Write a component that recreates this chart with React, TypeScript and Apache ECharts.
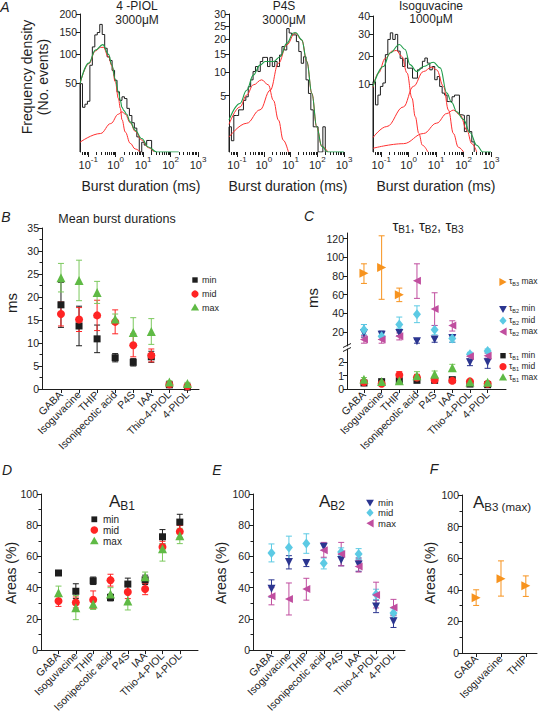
import React, { useEffect, useRef } from "react";
import * as echarts from "echarts";

const FONT = "'Liberation Sans', Arial, Helvetica, sans-serif";
const INK = "#1e1e1e";
const RED = "#ff2424";
const RED_FIT = "#ff3030";
const GREEN_FIT = "#1e9d4a";
const GREEN = "#5fba45";
const ORANGE = "#f7931e";
const NAVY = "#2b3590";
const CYAN = "#5ccae4";
const MAGENTA = "#c04e9f";

// ---------------- Panel A: burst-duration histograms (sqrt y, log x) ----------------
const histBinStart = -1.3;
const histBinWidth = 0.09;
const logTickExps = [-1, 0, 1, 2, 3];
const piolYTicks = [50, 100, 150, 200];
const p4sYTicks = [5, 10, 15, 20, 25, 30];
const isoYTicks = [10, 20, 30, 40];

const piolCounts = [49, 21, 24, 27, 79, 116, 144, 150, 171, 145, 113, 95, 88, 70, 54, 38, 28, 32, 30, 20, 14, 9, 6, 2.4, 0, 1, 0.5, 1.4, 1.4];
const p4sCounts = [1.0, 0.2, 2.1, 2.1, 2.8, 2.8, 4.2, 4.8, 6.7, 8.2, 10.2, 11.5, 10.2, 12.9, 14.1, 14.1, 11.5, 14.1, 11.5, 12.9, 11.5, 14.8, 17.5, 16.4, 24, 22.3, 21.6, 21.6, 19.2, 15.9, 12.4, 14.3, 8.2, 5.4, 2.8, 1.0, 1.0, 0, 0, 1.0];
const isoCounts = [10.7, 4.8, 7, 9.3, 10.3, 20.5, 27.4, 30.7, 27.4, 29.9, 22, 19, 15.8, 19, 15.2, 15.2, 11.8, 11.8, 14.6, 15.2, 17.8, 19.1, 17.1, 14.6, 15.8, 11.3, 12.3, 9.3, 7.5, 7, 5.5, 5.5, 6.6, 7, 7, 3, 2.9, 0.9, 2.9, 0.9, 0.22];

const piolFitFast = [[-1.3, 49], [-0.98, 82], [-0.74, 107], [-0.55, 115], [-0.45, 115], [-0.26, 95], [-0.14, 78], [-0.015, 52], [0.1, 30], [0.17, 20], [0.23, 11], [0.35, 4.2], [0.53, 0.8], [0.71, 0.1], [0.9, 0]];
const piolFitSlow = [[-1.3, 1], [-0.55, 3.6], [-0.18, 8.5], [0.1, 15], [0.23, 17], [0.35, 15], [0.53, 9], [0.71, 4.5], [0.95, 1.5], [1.19, 0.2], [1.4, 0]];
const piolFitSum = [[-1.3, 49], [-0.98, 83], [-0.74, 109], [-0.47, 121], [-0.26, 100], [-0.14, 80], [-0.015, 56], [0.1, 38], [0.17, 28], [0.23, 21], [0.3, 18], [0.4, 15], [0.53, 9.5], [0.71, 5], [0.95, 1.9], [1.19, 0.26], [1.5, 0], [2.3, 0]];

const p4sFitFast = [[-1.3, 1.2], [-0.89, 3.2], [-0.64, 5.1], [-0.39, 7.1], [-0.08, 8.2], [0.17, 7.1], [0.36, 4.2], [0.55, 1.6], [0.73, 0.22], [0.92, 0]];
const p4sFitSlow = [[-1.3, 0.35], [-0.64, 1.3], [-0.14, 2.8], [0.24, 6], [0.55, 12.4], [0.86, 18.1], [1.17, 22.3], [1.42, 19.8], [1.61, 12.9], [1.8, 5.4], [1.98, 1.0], [2.17, 0.05], [2.4, 0]];
const p4sFitSum = [[-1.3, 1.6], [-0.89, 3.7], [-0.64, 6], [-0.39, 9.3], [-0.14, 11.9], [0.05, 12.9], [0.36, 12.9], [0.61, 14.3], [0.86, 18.6], [1.11, 22.3], [1.2, 22.4], [1.42, 19.8], [1.61, 12.9], [1.8, 5.4], [1.98, 1.0], [2.17, 0.05], [2.4, 0], [3, 0]];

const isoFit1 = [[-1.3, 9], [-1.1, 13.5], [-0.85, 19], [-0.6, 22], [-0.45, 22.3], [-0.25, 19.8], [-0.06, 13.5], [0.12, 6.3], [0.24, 2.7], [0.37, 0.75], [0.5, 0.1], [0.7, 0]];
const isoFit2 = [[-1.3, 0.45], [-0.8, 1.4], [-0.19, 4.4], [0.17, 9.3], [0.54, 14], [0.84, 15.6], [1.02, 14.6], [1.27, 9.3], [1.45, 3.8], [1.63, 0.74], [1.81, 0.05], [2.0, 0]];
const isoFit3 = [[-1.3, 0.03], [-0.19, 0.15], [0.54, 0.74], [1.02, 1.8], [1.39, 3.2], [1.63, 3.8], [1.88, 2.95], [2.12, 1.03], [2.3, 0.15], [2.48, 0]];
const isoFitSum = [[-1.3, 9.3], [-0.92, 15.8], [-0.68, 21.2], [-0.34, 25], [-0.13, 22.7], [0.05, 16.5], [0.29, 14], [0.54, 15.8], [0.9, 17.4], [1.15, 15.3], [1.39, 7.5], [1.57, 5.3], [1.75, 3.5], [1.99, 2.3], [2.24, 0.8], [2.48, 0.1], [2.7, 0], [3, 0]];

// ---------------- Panels B-F ----------------
const agonists = ["GABA", "Isoguvacine", "THIP", "Isonipecotic acid", "P4S", "IAA", "Thio-4-PIOL", "4-PIOL"];
const agonistsF = ["GABA", "Isoguvacine", "THIP"];

// B: mean burst durations (ms)
const bMin = [18.3, 13.7, 10.9, 6.8, 5.8, 7.0, 0.9, 0.4];
const bMinLo = [13.4, 9.4, 7.9, 5.9, 5.0, 5.8, 0.75, 0.3];
const bMinHi = [23.2, 18.0, 13.9, 7.7, 6.6, 8.2, 1.05, 0.5];
const bMid = [16.3, 15.1, 16.0, 14.6, 9.5, 7.3, 1.0, 0.6];
const bMidLo = [13.7, 12.5, 12.7, 12.0, 7.0, 5.9, 0.8, 0.45];
const bMidHi = [18.9, 17.7, 19.3, 17.2, 12.0, 8.7, 1.2, 0.75];
const bMax = [24.2, 23.6, 21.0, 15.2, 12.3, 12.5, 1.5, 1.2];
const bMaxLo = [21.1, 19.2, 18.6, 14.1, 9.1, 9.7, 1.2, 0.95];
const bMaxHi = [27.3, 28.0, 23.4, 16.3, 15.5, 15.3, 1.8, 1.45];

// C: time constants (ms)
const tauB3Max = [83, 89, 60];
const tauB3MaxLo = [72, 55, 52.5];
const tauB3MaxHi = [93, 123, 67];
const tauB2Min = [19, 17, 19, 10, 12, 13.5, 2.0, 2.0];
const tauB2MinLo = [14.5, 12, 16, 8, 9, 9, 1.75, 1.55];
const tauB2MinHi = [28, 21, 22, 12, 14.5, 16, 2.25, 2.3];
const tauB2Mid = [22.5, 15.5, 28, 39, 22.5, 13, 2.6, 2.85];
const tauB2MidLo = [17, 12, 24, 30, 17, 9, 2.45, 2.7];
const tauB2MidHi = [28, 19, 36, 48, 27, 17, 2.75, 3.0];
const tauB2Max = [12, 12, 15.5, 75, 44.5, 27, 2.45, 2.5];
const tauB2MaxLo = [8, 8, 11.5, 56, 27, 21, 2.25, 2.3];
const tauB2MaxHi = [16, 15, 19, 93, 62, 32, 2.65, 2.7];
const tauB2UpperCount = 6;
const tauB1Min = [0.45, 0.55, 0.62, 0.65, 0.65, 0.7, 0.37, 0.32];
const tauB1MinLo = [0.4, 0.5, 0.55, 0.58, 0.6, 0.62, 0.32, 0.27];
const tauB1MinHi = [0.5, 0.6, 0.69, 0.72, 0.7, 0.78, 0.42, 0.37];
const tauB1Mid = [0.5, 0.4, 1.05, 0.86, 0.67, 0.62, 0.57, 0.4];
const tauB1MidLo = [0.42, 0.33, 0.78, 0.62, 0.55, 0.52, 0.5, 0.33];
const tauB1MidHi = [0.58, 0.47, 1.3, 1.1, 0.8, 0.72, 0.64, 0.47];
const tauB1Max = [0.74, 0.57, 0.62, 1.0, 1.1, 1.6, 0.52, 0.5];
const tauB1MaxLo = [0.62, 0.5, 0.55, 0.72, 0.85, 1.35, 0.45, 0.43];
const tauB1MaxHi = [0.86, 0.64, 0.69, 1.3, 1.35, 1.85, 0.59, 0.57];

// D: A_B1 areas (%)
const dMin = [49.4, 37.7, 44.4, 33.7, 42.3, 45, 72.6, 82];
const dMinLo = [48, 33, 42, 31.5, 38.5, 42, 68, 77];
const dMinHi = [50.8, 42.5, 46.8, 35.9, 46.1, 48, 77.2, 87];
const dMid = [31.4, 30.5, 32.2, 44.8, 37.2, 39.1, 66.1, 75.9];
const dMidLo = [28, 27, 26.5, 41, 33, 35.5, 62.5, 72];
const dMidHi = [34.8, 34, 37.9, 48.6, 41.4, 42.7, 69.7, 79.8];
const dMax = [36.8, 27.2, 29.5, 36, 31.4, 47, 65, 73.2];
const dMaxLo = [32.5, 19.5, 26, 32, 25.7, 44, 57, 68.2];
const dMaxHi = [41, 35, 33, 40, 37, 50, 68, 78];

// E: A_B2 areas (%)
const eMin = [39.3, 56.4, 55.8, 66.2, 57.7, 54.8, 28, 18.5];
const eMinLo = [34, 52, 53.5, 64, 54, 50.5, 24, 14.5];
const eMinHi = [45, 60.5, 58, 68.4, 61.4, 59, 32, 22.5];
const eMid = [62.2, 65.8, 68.3, 55.6, 62.8, 61.5, 35.7, 23.8];
const eMidLo = [56.5, 58.5, 62, 52, 60.5, 58, 32.5, 21];
const eMidHi = [68, 73, 74.5, 59, 65.5, 65, 39, 26.5];
const eMax = [34.5, 32.8, 39.1, 64, 61.5, 53.5, 35.3, 27.3];
const eMaxLo = [29, 22.5, 32, 59.5, 54, 50, 27, 22];
const eMaxHi = [40, 43, 46, 69, 69, 57.5, 43.5, 32.5];

// F: A_B3 (max) areas (%)
const fMax = [34.9, 47, 42.5];
const fMaxLo = [30.1, 36, 35.8];
const fMaxHi = [40, 58.3, 48.8];

// ---------------- symbols ----------------
const SYM_RIGHT = "path://M0,0L0,10L9,5Z";
const SYM_LEFT = "path://M9,0L9,10L0,5Z";
const SYM_DOWN = "path://M0,0L10,0L5,9Z";

function histData(counts: number[]) {
  const pts: number[][] = [[histBinStart, 0]];
  counts.forEach((c, i) => pts.push([histBinStart + i * histBinWidth, Math.sqrt(c)]));
  pts.push([histBinStart + counts.length * histBinWidth, 0]);
  return pts;
}

function histSeries(xi: number, yi: number, counts: number[]) {
  return {
    type: "line", xAxisIndex: xi, yAxisIndex: yi, step: "end", data: histData(counts),
    symbol: "none", lineStyle: { color: INK, width: 1 }, z: 2, silent: true,
  };
}

function fitSeries(xi: number, yi: number, pts: number[][], color: string, w: number, z: number) {
  return {
    type: "line", xAxisIndex: xi, yAxisIndex: yi, smooth: 0.4, smoothMonotone: "x",
    data: pts.map(([x, c]) => [x, Math.sqrt(c)]), symbol: "none",
    lineStyle: { color, width: w }, z, silent: true,
  };
}

function idx(n: number, from = 0) {
  return Array.from({ length: n }, (_, i) => i + from);
}

function pointSeries(xi: number, yi: number, xs: number[], vals: number[], symbol: string, size: any, color: string) {
  return {
    type: "scatter", xAxisIndex: xi, yAxisIndex: yi, symbol, symbolSize: size,
    itemStyle: { color, opacity: 1 }, data: xs.map((x, k) => [x, vals[k]]), z: 4, silent: true,
  };
}

function errSeries(xi: number, yi: number, xs: number[], lo: number[], hi: number[], color: string) {
  return {
    type: "custom", xAxisIndex: xi, yAxisIndex: yi, silent: true, z: 3, clip: false,
    encode: { x: 0, y: [1, 2] },
    data: xs.map((x, k) => [x, lo[k], hi[k]]),
    renderItem: (_p: any, api: any) => {
      const a = api.coord([api.value(0), api.value(1)]);
      const b = api.coord([api.value(0), api.value(2)]);
      const w = 3;
      const st = { stroke: color, lineWidth: 1 };
      return {
        type: "group",
        children: [
          { type: "line", shape: { x1: a[0], y1: a[1], x2: b[0], y2: b[1] }, style: st },
          { type: "line", shape: { x1: a[0] - w, y1: a[1], x2: a[0] + w, y2: a[1] }, style: st },
          { type: "line", shape: { x1: b[0] - w, y1: b[1], x2: b[0] + w, y2: b[1] }, style: st },
        ],
      };
    },
  };
}

function groupSeries(xi: number, yi: number, xs: number[], v: number[], lo: number[], hi: number[], sym: string, size: any, color: string, errColor?: string) {
  return [errSeries(xi, yi, xs, lo, hi, errColor || color), pointSeries(xi, yi, xs, v, sym, size, color)];
}

const supRich = {
  b: { fontSize: 11, lineHeight: 13, color: INK, fontFamily: FONT, verticalAlign: "top", padding: [4, 0, 0, 0] },
  s: { fontSize: 8, lineHeight: 9, color: INK, fontFamily: FONT, verticalAlign: "top" },
};

function logMajorAxis(gi: number) {
  return {
    type: "value", gridIndex: gi, position: "bottom", min: -1.3, max: 3,
    axisLine: { show: false, onZero: false }, splitLine: { show: false },
    axisTick: { show: true, customValues: logTickExps, length: 5, lineStyle: { color: INK } },
    axisLabel: {
      customValues: logTickExps, margin: 3, showMinLabel: true, showMaxLabel: true,
      formatter: (v: number) => `{b|10}{s|${Math.round(v)}}`, rich: supRich,
    },
  };
}

const minorLogTicks: number[] = [];
for (let n = -2; n <= 2; n++) {
  for (let k = 1; k <= 9; k++) {
    const v = n + Math.log10(k);
    if (v >= -1.3 && v <= 3) minorLogTicks.push(v);
  }
}
minorLogTicks.push(3);

function logMinorAxis(gi: number) {
  return {
    type: "value", gridIndex: gi, position: "bottom", min: -1.3, max: 3,
    axisLine: { show: false, onZero: false }, splitLine: { show: false },
    axisTick: { show: true, customValues: minorLogTicks, length: 3, lineStyle: { color: INK } },
    axisLabel: { show: false },
  };
}

function sqrtYAxis(gi: number, ticks: number[]) {
  const cv = ticks.map((t) => Math.sqrt(t));
  return {
    type: "value", gridIndex: gi, min: 0, max: Math.sqrt(ticks[ticks.length - 1]),
    axisLine: { show: true, onZero: false, lineStyle: { color: INK } }, splitLine: { show: false },
    axisTick: { show: true, customValues: cv, length: 4, lineStyle: { color: INK } },
    axisLabel: {
      customValues: cv, formatter: (v: number) => String(Math.round(v * v)),
      fontSize: 10.5, color: INK, margin: 3, showMinLabel: true, showMaxLabel: true,
    },
  };
}

function catAxis(gi: number, cats: string[], min: number, max: number, show = true) {
  const cv = cats.map((_, i) => i);
  return {
    type: "value", gridIndex: gi, position: "bottom", min, max, show,
    axisLine: { show: true, onZero: false, lineStyle: { color: INK } }, splitLine: { show: false },
    axisTick: { show: true, customValues: cv, length: 4, lineStyle: { color: INK } },
    axisLabel: {
      customValues: cv, formatter: (v: number) => cats[Math.round(v)] ?? "",
      rotate: 45, fontSize: 10.5, color: INK, margin: 4, showMinLabel: true, showMaxLabel: true,
    },
  };
}

function valAxis(gi: number, min: number, max: number, interval: number, minor: boolean) {
  return {
    type: "value", gridIndex: gi, min, max, interval,
    axisLine: { show: true, onZero: false, lineStyle: { color: INK } }, splitLine: { show: false },
    axisTick: { show: true, length: 4, lineStyle: { color: INK } },
    minorTick: { show: minor, splitNumber: 2, length: 2.5, lineStyle: { color: INK } },
    axisLabel: { fontSize: 10.5, color: INK, margin: 3, showMinLabel: true, showMaxLabel: true },
  };
}

function customYAxis(gi: number, min: number, max: number, ticks: number[]) {
  return {
    type: "value", gridIndex: gi, min, max,
    axisLine: { show: true, onZero: false, lineStyle: { color: INK } }, splitLine: { show: false },
    axisTick: { show: true, customValues: ticks, length: 4, lineStyle: { color: INK } },
    axisLabel: { customValues: ticks, fontSize: 10.5, color: INK, margin: 3, showMinLabel: true, showMaxLabel: true },
  };
}

// ---------------- graphic helpers ----------------
function T(x: number, y: number, text: string, fontSize: number, o: any = {}) {
  return {
    type: "text", x, y, rotation: o.rotation || 0, silent: true,
    style: {
      text, fontSize, fontFamily: FONT, fill: INK,
      align: o.align || "center", verticalAlign: o.va || "middle",
      fontStyle: o.italic ? "italic" : "normal", rich: o.rich,
    },
  };
}

function M(kind: string, cx: number, cy: number, color: string, s = 3.5) {
  let pts: number[][] = [];
  if (kind === "square") return { type: "rect", silent: true, shape: { x: cx - s + 0.5, y: cy - s + 0.5, width: 2 * s - 1, height: 2 * s - 1 }, style: { fill: color } };
  if (kind === "circle") return { type: "circle", silent: true, shape: { cx, cy, r: s }, style: { fill: color } };
  if (kind === "up") pts = [[cx, cy - s - 0.5], [cx + s + 0.5, cy + s - 0.5], [cx - s - 0.5, cy + s - 0.5]];
  if (kind === "down") pts = [[cx - s - 0.5, cy - s + 0.5], [cx + s + 0.5, cy - s + 0.5], [cx, cy + s + 0.5]];
  if (kind === "left") pts = [[cx + s, cy - s - 0.5], [cx + s, cy + s + 0.5], [cx - s, cy]];
  if (kind === "right") pts = [[cx - s, cy - s - 0.5], [cx - s, cy + s + 0.5], [cx + s, cy]];
  if (kind === "diamond") pts = [[cx, cy - s - 0.5], [cx + s, cy], [cx, cy + s + 0.5], [cx - s, cy]];
  return { type: "polygon", silent: true, shape: { points: pts }, style: { fill: color } };
}

const subRich = (big: number, small: number, drop: number) => ({
  a: { fontSize: big, lineHeight: big + 2, fontFamily: FONT, color: INK, verticalAlign: "top" },
  s: { fontSize: small, lineHeight: small + 2, fontFamily: FONT, color: INK, verticalAlign: "top", padding: [drop, 0, 0, 0] },
});

function tauLegend(x: number, y: number, sub: string, word: string) {
  return T(x, y, `{a|τ}{s|${sub}}{a| ${word}}`, 8.5, { align: "left", rich: subRich(8.5, 5.5, 4.5) });
}

function buildOption() {
  const grids = [
    { left: 80, top: 14, width: 118, height: 138 },
    { left: 229, top: 14, width: 115, height: 138 },
    { left: 373, top: 16, width: 118, height: 136 },
    { left: 42, top: 228, width: 157, height: 161 },
    { left: 347, top: 233, width: 159, height: 113 },
    { left: 347, top: 349, width: 159, height: 40 },
    { left: 41, top: 494, width: 157, height: 159 },
    { left: 253, top: 494, width: 152, height: 159 },
    { left: 462, top: 495, width: 75, height: 158 },
  ];

  const xAxis = [
    logMajorAxis(0), logMinorAxis(0),
    logMajorAxis(1), logMinorAxis(1),
    logMajorAxis(2), logMinorAxis(2),
    catAxis(3, agonists, -1.05, 7.64),
    catAxis(4, agonists, -0.96, 8.04, false),
    catAxis(5, agonists, -0.96, 8.04),
    catAxis(6, agonists, -1.01, 8.05),
    catAxis(7, agonists, -1.06, 7.66),
    catAxis(8, agonistsF, -0.57, 2.45),
  ];

  const yAxis = [
    sqrtYAxis(0, piolYTicks),
    sqrtYAxis(1, p4sYTicks),
    sqrtYAxis(2, isoYTicks),
    valAxis(3, 0, 35, 5, true),
    customYAxis(4, 5, 126, [20, 40, 60, 80, 100, 120]),
    customYAxis(5, 0, 3, [0, 1, 2]),
    valAxis(6, 0, 100, 20, true),
    valAxis(7, 0, 100, 20, true),
    valAxis(8, 0, 100, 20, true),
  ];

  const i8 = idx(8);
  const upIdx = idx(tauB2UpperCount);
  const lowIdx = idx(8 - tauB2UpperCount, tauB2UpperCount);
  const up = (a: number[]) => a.slice(0, tauB2UpperCount);
  const low = (a: number[]) => a.slice(tauB2UpperCount);

  const series: any[] = [
    // A
    histSeries(0, 0, piolCounts),
    fitSeries(0, 0, piolFitFast, RED_FIT, 1, 3),
    fitSeries(0, 0, piolFitSlow, RED_FIT, 1, 3),
    fitSeries(0, 0, piolFitSum, GREEN_FIT, 1.1, 4),
    histSeries(2, 1, p4sCounts),
    fitSeries(2, 1, p4sFitFast, RED_FIT, 1, 3),
    fitSeries(2, 1, p4sFitSlow, RED_FIT, 1, 3),
    fitSeries(2, 1, p4sFitSum, GREEN_FIT, 1.1, 4),
    histSeries(4, 2, isoCounts),
    fitSeries(4, 2, isoFit1, RED_FIT, 1, 3),
    fitSeries(4, 2, isoFit2, RED_FIT, 1, 3),
    fitSeries(4, 2, isoFit3, RED_FIT, 1, 3),
    fitSeries(4, 2, isoFitSum, GREEN_FIT, 1.1, 4),
    // B
    ...groupSeries(6, 3, i8, bMin, bMinLo, bMinHi, "rect", 7, INK),
    ...groupSeries(6, 3, i8, bMid, bMidLo, bMidHi, "circle", 8, RED),
    ...groupSeries(6, 3, i8, bMax, bMaxLo, bMaxHi, "triangle", 9, GREEN, "#7cc95e"),
    // C upper
    ...groupSeries(7, 4, upIdx, up(tauB2Min), up(tauB2MinLo), up(tauB2MinHi), SYM_DOWN, 8, NAVY),
    ...groupSeries(7, 4, upIdx, up(tauB2Mid), up(tauB2MidLo), up(tauB2MidHi), "diamond", [8, 10], CYAN),
    ...groupSeries(7, 4, upIdx, up(tauB2Max), up(tauB2MaxLo), up(tauB2MaxHi), SYM_LEFT, 8, MAGENTA),
    ...groupSeries(7, 4, idx(3), tauB3Max, tauB3MaxLo, tauB3MaxHi, SYM_RIGHT, 9, ORANGE),
    // C lower
    ...groupSeries(8, 5, i8, tauB1Min, tauB1MinLo, tauB1MinHi, "rect", 7, INK),
    ...groupSeries(8, 5, i8, tauB1Mid, tauB1MidLo, tauB1MidHi, "circle", 8, RED),
    ...groupSeries(8, 5, i8, tauB1Max, tauB1MaxLo, tauB1MaxHi, "triangle", 9, GREEN, "#7cc95e"),
    ...groupSeries(8, 5, lowIdx, low(tauB2Min), low(tauB2MinLo), low(tauB2MinHi), SYM_DOWN, 8, NAVY),
    ...groupSeries(8, 5, lowIdx, low(tauB2Mid), low(tauB2MidLo), low(tauB2MidHi), "diamond", [8, 10], CYAN),
    ...groupSeries(8, 5, lowIdx, low(tauB2Max), low(tauB2MaxLo), low(tauB2MaxHi), SYM_LEFT, 8, MAGENTA),
    // D
    ...groupSeries(9, 6, i8, dMin, dMinLo, dMinHi, "rect", 7, INK),
    ...groupSeries(9, 6, i8, dMid, dMidLo, dMidHi, "circle", 8, RED),
    ...groupSeries(9, 6, i8, dMax, dMaxLo, dMaxHi, "triangle", 9, GREEN, "#7cc95e"),
    // E
    ...groupSeries(10, 7, i8, eMin, eMinLo, eMinHi, SYM_DOWN, 8, NAVY),
    ...groupSeries(10, 7, i8, eMid, eMidLo, eMidHi, "diamond", [8, 10], CYAN),
    ...groupSeries(10, 7, i8, eMax, eMaxLo, eMaxHi, SYM_LEFT, 8, MAGENTA),
    // F
    ...groupSeries(11, 8, idx(3), fMax, fMaxLo, fMaxHi, SYM_RIGHT, 9, ORANGE),
  ];

  const elements: any[] = [
    // panel letters
    T(5, 7, "A", 14, { italic: true }),
    T(6, 217, "B", 14, { italic: true }),
    T(309, 216, "C", 14, { italic: true }),
    T(7, 470, "D", 14, { italic: true }),
    T(217, 470, "E", 14, { italic: true }),
    T(434, 469, "F", 14, { italic: true }),
    // Panel A titles
    T(137, 6, "4 -PIOL", 12),
    T(137, 19.5, "3000μM", 12),
    T(284, 6, "P4S", 12),
    T(284, 19.5, "3000μM", 12),
    T(431, 5.5, "Isoguvacine", 12),
    T(431, 19, "1000μM", 12),
    T(27, 77, "Frequency density", 14, { rotation: Math.PI / 2 }),
    T(43, 77, "(No. events)", 14, { rotation: Math.PI / 2 }),
    T(141, 186, "Burst duration (ms)", 14),
    T(288, 186, "Burst duration (ms)", 14),
    T(436, 186, "Burst duration (ms)", 14),
    // B
    T(117, 219, "Mean burst durations", 12.5),
    T(11, 303, "ms", 15, { rotation: Math.PI / 2 }),
    M("square", 195, 280, INK, 3.2), T(202, 280, "min", 9, { align: "left" }),
    M("circle", 195, 294, RED, 3.6), T(202, 294, "mid", 9, { align: "left" }),
    M("up", 195, 307.5, GREEN, 3.6), T(202, 307.5, "max", 9, { align: "left" }),
    // C
    T(428, 226, "{a|τ}{s|B1}{a|, τ}{s|B2}{a|, τ}{s|B3}", 15, { rich: subRich(15, 10, 7) }),
    T(312, 298, "ms", 15, { rotation: Math.PI / 2 }),
    M("right", 503, 282, ORANGE, 3.6), tauLegend(509, 282, "B3", "max"),
    M("down", 503, 309, NAVY, 3.4), tauLegend(509, 309, "B2", "min"),
    M("diamond", 503, 320.7, CYAN, 3.6), tauLegend(509, 320.7, "B2", "mid"),
    M("left", 503, 331.7, MAGENTA, 3.6), tauLegend(509, 331.7, "B2", "max"),
    M("square", 503, 355.7, INK, 3.2), tauLegend(509, 355.7, "B1", "min"),
    M("circle", 503, 366.7, RED, 3.6), tauLegend(509, 366.7, "B1", "mid"),
    M("up", 503, 377.3, GREEN, 3.6), tauLegend(509, 377.3, "B1", "max"),
    { type: "line", silent: true, shape: { x1: 343, y1: 347.5, x2: 351, y2: 343.5 }, style: { stroke: INK, lineWidth: 1 } },
    { type: "line", silent: true, shape: { x1: 343, y1: 351.5, x2: 351, y2: 347.5 }, style: { stroke: INK, lineWidth: 1 } },
    // D
    T(122, 502, "{a|A}{s|B1}", 17, { rich: subRich(17, 12, 7) }),
    T(11, 573, "Areas (%)", 14, { rotation: Math.PI / 2 }),
    M("square", 94.3, 519.3, INK, 3.4), T(103, 519.3, "min", 10, { align: "left" }),
    M("circle", 94.3, 530, RED, 3.8), T(103, 530, "mid", 10, { align: "left" }),
    M("up", 94.3, 541, GREEN, 3.8), T(103, 541, "max", 10, { align: "left" }),
    // E
    T(332, 502, "{a|A}{s|B2}", 17, { rich: subRich(17, 12, 7) }),
    T(221, 573, "Areas (%)", 14, { rotation: Math.PI / 2 }),
    M("down", 370, 502.7, NAVY, 3.4), T(378, 502.7, "min", 9.5, { align: "left" }),
    M("diamond", 370, 512.7, CYAN, 3.6), T(378, 512.7, "mid", 9.5, { align: "left" }),
    M("left", 370, 523.3, MAGENTA, 3.6), T(378, 523.3, "max", 9.5, { align: "left" }),
    // F
    T(473, 503, "{a|A}{s|B3 (max)}", 17, { align: "left", rich: subRich(17, 11.5, 7) }),
    T(430, 573, "Areas (%)", 14, { rotation: Math.PI / 2 }),
  ];

  return {
    animation: false,
    backgroundColor: "#ffffff",
    textStyle: { fontFamily: FONT, color: INK },
    grid: grids,
    xAxis,
    yAxis,
    series,
    graphic: { elements },
  };
}

export default function App() {
  const ref = useRef<HTMLDivElement>(null);
  useEffect(() => {
    const chart = echarts.init(ref.current as HTMLDivElement, undefined, { renderer: "svg" });
    chart.setOption(buildOption() as any);
    return () => chart.dispose();
  }, []);
  return (
    <div
      ref={ref}
      style={{ position: "fixed", left: 0, top: 0, width: 541, height: 715, background: "#fff" }}
    />
  );
}
